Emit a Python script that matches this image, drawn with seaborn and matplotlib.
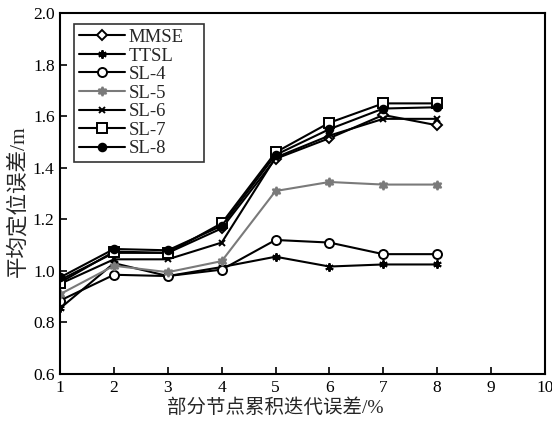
import matplotlib
matplotlib.use("Agg")
import matplotlib.pyplot as plt
import seaborn as sns
import pandas as pd

# Cumulative iteration error of part of the nodes (%)
error_pct = [1, 2, 3, 4, 5, 6, 7, 8]

mmse = [0.965, 1.070, 1.070, 1.165, 1.435, 1.515, 1.605, 1.565]
ttsl = [0.855, 1.030, 0.980, 1.015, 1.055, 1.017, 1.025, 1.025]
sl4 = [0.885, 0.985, 0.980, 1.005, 1.120, 1.110, 1.065, 1.065]
sl5 = [0.910, 1.020, 0.995, 1.038, 1.310, 1.345, 1.335, 1.335]
sl6 = [0.950, 1.045, 1.045, 1.110, 1.440, 1.525, 1.590, 1.590]
sl7 = [0.955, 1.075, 1.070, 1.185, 1.460, 1.575, 1.650, 1.650]
sl8 = [0.975, 1.085, 1.080, 1.175, 1.450, 1.550, 1.630, 1.635]

series_names = ["MMSE", "TTSL", "SL-4", "SL-5", "SL-6", "SL-7", "SL-8"]
series_values = [mmse, ttsl, sl4, sl5, sl6, sl7, sl8]

x_ticks = list(range(1, 11))
y_ticks = [0.6, 0.8, 1.0, 1.2, 1.4, 1.6, 1.8, 2.0]

sns.set_theme(style="white")
plt.rcParams["font.family"] = ["Liberation Serif", "Noto Sans CJK SC"]

styles = {
    "MMSE": dict(color="black", marker="D", mfc="white", ms=5),
    "TTSL": dict(color="black", marker=(6, 2, 0), mfc="black", ms=6),
    "SL-4": dict(color="black", marker="o", mfc="white", ms=6.5),
    "SL-5": dict(color="#7a7a7a", marker=(6, 1, 0), mfc="#7a7a7a", ms=6.5),
    "SL-6": dict(color="black", marker="x", mfc="black", ms=5),
    "SL-7": dict(color="black", marker="s", mfc="white", ms=6.5),
    "SL-8": dict(color="black", marker="o", mfc="black", ms=5.5),
}

frames = []
for name, vals in zip(series_names, series_values):
    frames.append(pd.DataFrame({"x": error_pct, "y": vals, "series": name}))
data = pd.concat(frames, ignore_index=True)

fig = plt.figure(figsize=(5.52, 4.25), dpi=100)
ax = fig.add_axes([0.109, 0.12, 0.878, 0.849])

for name in series_names:
    st = styles[name]
    sub = data[data["series"] == name]
    sns.lineplot(
        data=sub, x="x", y="y", ax=ax, label=name,
        color=st["color"], marker=st["marker"], markersize=st["ms"],
        markerfacecolor=st["mfc"], markeredgecolor=st["color"],
        markeredgewidth=1.4, linewidth=1.5, estimator=None, sort=False,
    )

ax.set_xlim(1, 10)
ax.set_ylim(0.6, 2.0)
ax.set_xticks(x_ticks)
ax.set_yticks(y_ticks)
ax.set_yticklabels([f"{v:.1f}" for v in y_ticks])
ax.tick_params(axis="both", direction="in", length=5, width=1.2,
               labelsize=12.5, colors="black", pad=4)
ax.tick_params(left=True, bottom=True, top=False, right=False)
for sp in ax.spines.values():
    sp.set_color("black")
    sp.set_linewidth(1.5)

ax.set_xlabel("部分节点累积迭代误差/%", fontsize=14)
ax.xaxis.set_label_coords(0.443, -0.068)
ax.set_ylabel("平均定位误差/m", fontsize=15.5)
ax.yaxis.set_label_coords(-0.066, 0.48)

leg = ax.legend(loc="upper left", bbox_to_anchor=(0.029, 0.9695, 0.268, 0.0),
                mode="expand", fontsize=13.5, frameon=True, fancybox=False,
                edgecolor="black", handlelength=2.45, labelspacing=0.075,
                borderpad=0.25, handletextpad=0.2, borderaxespad=0)
leg.get_frame().set_linewidth(1.2)

fig.savefig("out.png", dpi=100)
